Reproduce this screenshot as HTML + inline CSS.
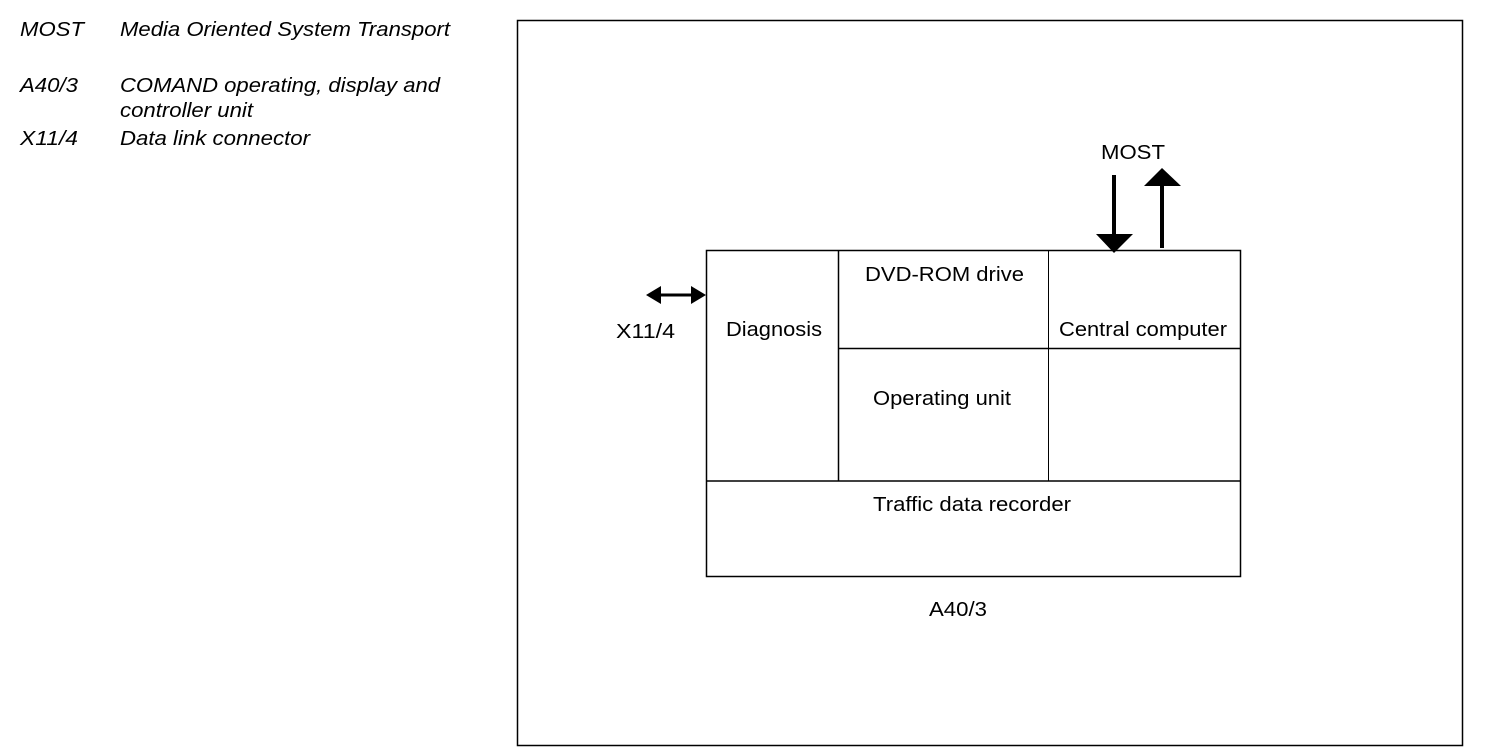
<!DOCTYPE html>
<html><head><style>
body{margin:0;background:#fff;}
svg text{font-family:"Liberation Sans",Arial,sans-serif;font-size:20px;fill:#000;}
.it{font-style:italic;}
</style></head><body>
<svg width="1504" height="750" xmlns="http://www.w3.org/2000/svg">
<g class="it">
<text x="20" y="36" class="it" textLength="64" lengthAdjust="spacingAndGlyphs">MOST</text>
<text x="120" y="36" class="it" textLength="330" lengthAdjust="spacingAndGlyphs">Media Oriented System Transport</text>
<text x="20" y="92" class="it" textLength="58" lengthAdjust="spacingAndGlyphs">A40/3</text>
<text x="120" y="92" class="it" textLength="320" lengthAdjust="spacingAndGlyphs">COMAND operating, display and</text>
<text x="120" y="117" class="it" textLength="133" lengthAdjust="spacingAndGlyphs">controller unit</text>
<text x="20" y="145" class="it" textLength="58" lengthAdjust="spacingAndGlyphs">X11/4</text>
<text x="120" y="145" class="it" textLength="190" lengthAdjust="spacingAndGlyphs">Data link connector</text>
</g>
<rect x="517.5" y="20.5" width="945" height="725" fill="none" stroke="#000" stroke-width="1.5"/>
<rect x="706.5" y="250.5" width="534" height="326" fill="none" stroke="#000" stroke-width="1.5"/>
<line x1="838.5" y1="250" x2="838.5" y2="481" stroke="#000" stroke-width="1.5"/>
<line x1="1048.5" y1="250" x2="1048.5" y2="481" stroke="#000" stroke-width="1"/>
<line x1="838" y1="348.5" x2="1240" y2="348.5" stroke="#000" stroke-width="1.5"/>
<line x1="706" y1="481" x2="1240" y2="481" stroke="#000" stroke-width="1.5"/>
<line x1="1114" y1="175" x2="1114" y2="236" stroke="#000" stroke-width="4"/>
<polygon points="1096,234 1133,234 1114,253" fill="#000"/>
<line x1="1162" y1="248" x2="1162" y2="184" stroke="#000" stroke-width="4"/>
<polygon points="1144,186 1181,186 1162,168" fill="#000"/>
<line x1="656" y1="295" x2="696" y2="295" stroke="#000" stroke-width="3"/>
<polygon points="646,295 661,286 661,304" fill="#000"/>
<polygon points="706,295 691,286 691,304" fill="#000"/>
<text x="1101" y="159" textLength="64" lengthAdjust="spacingAndGlyphs">MOST</text>
<text x="616" y="338" textLength="59" lengthAdjust="spacingAndGlyphs">X11/4</text>
<text x="726" y="336" textLength="96" lengthAdjust="spacingAndGlyphs">Diagnosis</text>
<text x="865" y="281" textLength="159" lengthAdjust="spacingAndGlyphs">DVD-ROM drive</text>
<text x="1059" y="336" textLength="168" lengthAdjust="spacingAndGlyphs">Central computer</text>
<text x="873" y="405" textLength="138" lengthAdjust="spacingAndGlyphs">Operating unit</text>
<text x="873" y="511" textLength="198" lengthAdjust="spacingAndGlyphs">Traffic data recorder</text>
<text x="929" y="616" textLength="58" lengthAdjust="spacingAndGlyphs">A40/3</text>
</svg>
</body></html>
